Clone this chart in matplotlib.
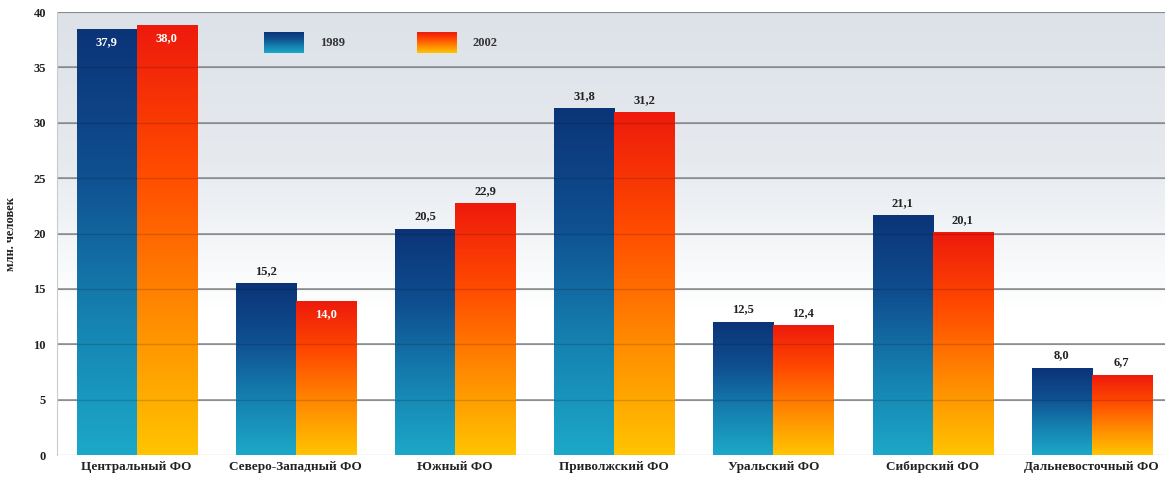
import numpy as np
import matplotlib
matplotlib.use("Agg")
import matplotlib.pyplot as plt
from matplotlib.colors import LinearSegmentedColormap

plt.rcParams["font.family"] = ["Liberation Serif", "DejaVu Serif"]

# данные: численность населения по федеральным округам, млн. человек
districts = ["Центральный ФО", "Северо-Западный ФО", "Южный ФО", "Приволжский ФО",
             "Уральский ФО", "Сибирский ФО", "Дальневосточный ФО"]
years = ["1989", "2002"]
pop_1989 = [38.4, 15.5, 20.4, 31.3, 12.0, 21.6, 7.85]
pop_2002 = [38.8, 13.9, 22.7, 30.9, 11.7, 20.1, 7.2]
lab_1989 = ["37,9", "15,2", "20,5", "31,8", "12,5", "21,1", "8,0"]
lab_2002 = ["38,0", "14,0", "22,9", "31,2", "12,4", "20,1", "6,7"]
inside_1989 = [True, False, False, False, False, False, False]
inside_2002 = [True, True, False, False, False, False, False]
yticks = [0, 5, 10, 15, 20, 25, 30, 35, 40]

BLUE = LinearSegmentedColormap.from_list("b", ["#1ca8c8", "#1580b0", "#0f4f90", "#0b3478"])
RED = LinearSegmentedColormap.from_list("r", ["#ffc400", "#ff8a00", "#ff4a00", "#ee1a0c"])
GRAD = np.linspace(0, 1, 256).reshape(-1, 1)

fig = plt.figure(figsize=(11.65, 4.82), dpi=100)
ax = fig.add_axes([0.049, 0.056, 0.951, 0.919])
ax.set_xlim(-0.5, 6.46)
ax.set_ylim(0, 40)

# фон: светло-серый сверху, белый снизу
bg = LinearSegmentedColormap.from_list("bg", ["#ffffff", "#ffffff", "#e6eaef", "#dde2e8"])
ax.imshow(GRAD, cmap=bg, origin="lower", aspect="auto", extent=(-0.5, 6.46, 0, 40), zorder=0)

for y in yticks[1:]:
    ax.axhline(y, color="#9a9da2", lw=1.3, zorder=1)
    ax.axhline(y, color="#000000", lw=1.0, alpha=0.15, zorder=2.5)  # сетка поверх столбцов

w = 0.377
x = np.arange(len(districts))


def grad_bars(xs, vals, cmap):
    bars = ax.bar(xs, vals, width=w, align="edge", color="none", zorder=2)
    for b in bars:
        x0, y0 = b.get_x(), b.get_y()
        ax.imshow(GRAD, cmap=cmap, origin="lower", aspect="auto",
                  extent=(x0, x0 + b.get_width(), y0, y0 + b.get_height()), zorder=2)
    return bars


b1 = grad_bars(x - w, pop_1989, BLUE)
b2 = grad_bars(x, pop_2002, RED)

for bars, labs, ins in [(b1, lab_1989, inside_1989), (b2, lab_2002, inside_2002)]:
    for b, t, i in zip(bars, labs, ins):
        cx = b.get_x() + b.get_width() / 2
        h = b.get_height()
        if i:
            ax.text(cx, h - 0.6, t, ha="center", va="top", color="white",
                    fontsize=9, fontweight="bold", zorder=3)
        else:
            ax.text(cx, h + 0.6, t, ha="center", va="bottom", color="#222222",
                    fontsize=9, fontweight="bold", zorder=3)

# легенда
for sx, cmap, name in [(0.187, BLUE, years[0]), (0.325, RED, years[1])]:
    ax.imshow(GRAD, cmap=cmap, origin="lower", aspect="auto",
              extent=(sx, sx + 0.036, 0.907, 0.953), transform=ax.transAxes, zorder=3)
    ax.text(sx + 0.05, 0.93, name, transform=ax.transAxes, ha="left", va="center",
            fontsize=9, fontweight="bold", color="#333333")

ax.set_xticks(x)
ax.set_xticklabels(districts, fontsize=9.5, fontweight="bold", color="#222222")
ax.set_yticks(yticks)
ax.set_yticklabels([str(v) for v in yticks], fontsize=9, fontweight="bold", color="#222222")
ax.tick_params(length=0, pad=8)
ax.tick_params(axis="x", pad=4)
ax.set_ylabel("млн. человек", fontsize=9, fontweight="bold", color="#222222", labelpad=12)
for s in ["top", "right", "bottom"]:
    ax.spines[s].set_visible(False)
ax.spines["left"].set_color("#c8cccf")
ax.axhline(0, color="#c8cccf", lw=1, zorder=1)

fig.savefig("out.png", dpi=100)
